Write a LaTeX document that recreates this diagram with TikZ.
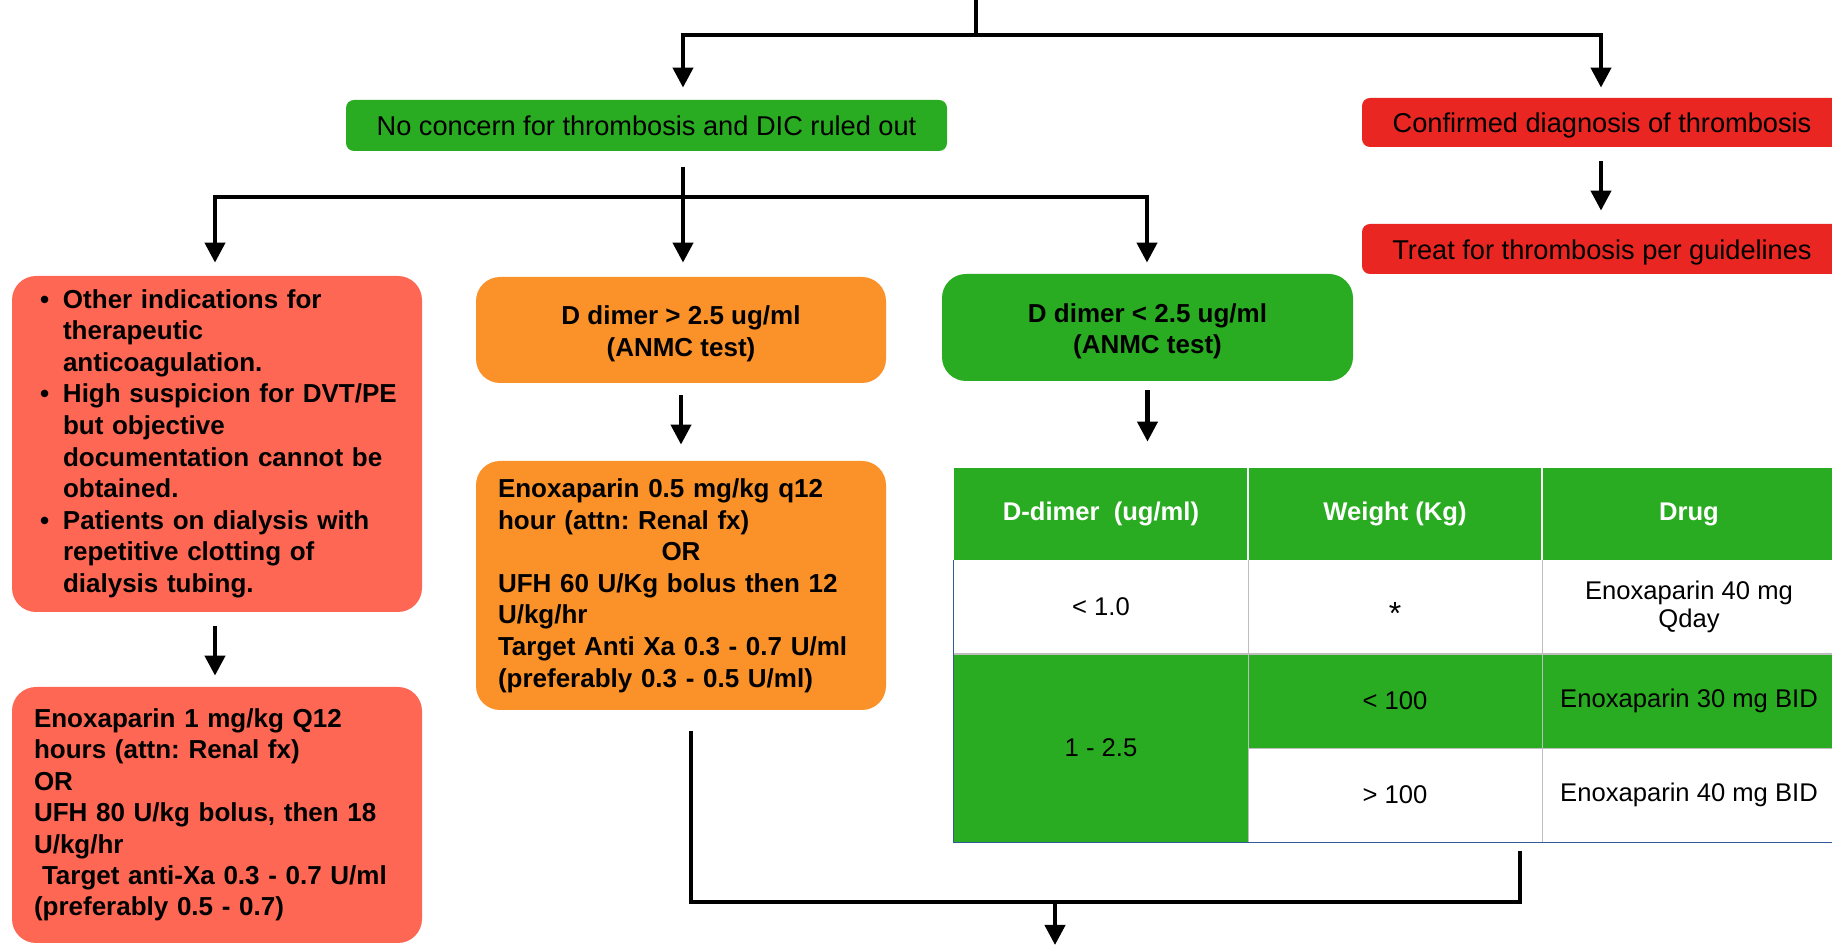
\documentclass[tikz,border=0pt]{standalone}
\usepackage{fontspec}
\setmainfont{Liberation Sans}
\usetikzlibrary{arrows.meta,calc}
\definecolor{gbox}{RGB}{42,172,34}
\definecolor{rbox}{RGB}{233,38,33}
\definecolor{sbox}{RGB}{254,103,84}
\definecolor{obox}{RGB}{251,146,41}
\definecolor{gridgray}{RGB}{190,190,190}
\definecolor{tblue}{RGB}{50,90,150}
\frenchspacing
\newcommand{\lowtwo}[3]{\raisebox{-#1}[\height][\depth]{\begin{tabular}{@{}c@{}}#2\\#3\end{tabular}}}
\newcommand{\lowone}[2]{\raisebox{-#1}[\height][\depth]{#2}}
\begin{document}
\begin{tikzpicture}[x=0.5pt,y=-0.5pt,
  conn/.style={line width=2.1pt, line join=miter},
  arr/.style={conn, -{Triangle[length=10pt,width=10pt]}},
  flat/.style={rounded corners=4pt, inner sep=0pt, text=black, align=center,
    font=\fontsize{13.6}{16}\selectfont},
  bigbox/.style={rounded corners=12pt, inner sep=0pt, text=black,
    font=\fontsize{13}{15.8}\selectfont\bfseries},
  cell/.style={minimum width=147pt, minimum height=47pt, inner sep=0pt, align=center,
    font=\fontsize{12.8}{14}\selectfont},
  hcell/.style={cell, minimum height=46pt, fill=gbox, text=white,
    font=\fontsize{12.8}{14}\selectfont\bfseries}
]
\useasboundingbox (0,0) rectangle (1832,945);

% top boxes
\node[flat, fill=gbox, minimum width=300.5pt, minimum height=25.5pt] (nc) at (646.5,125.5)
  {No concern for thrombosis and DIC ruled out};
\node[flat, fill=rbox, minimum width=240pt, minimum height=24.5pt] (cd) at (1602,122.5)
  {\lowone{1.7pt}{Confirmed diagnosis of thrombosis}};
\node[flat, fill=rbox, minimum width=240pt, minimum height=25pt] (tt) at (1602,249)
  {\lowone{1.7pt}{Treat for thrombosis per guidelines}};

% left column
\node[bigbox, fill=sbox, minimum width=205pt, minimum height=168pt, text width=177pt, align=left]
  (lb1) at (217,444)
  {\begin{tabular}{@{}p{11.5pt}@{}l@{}}
   \textbullet & Other indications for\\
   & therapeutic\\
   & anticoagulation.\\
   \textbullet & High suspicion for DVT/PE\\
   & but objective\\
   & documentation cannot be\\
   & obtained.\\
   \textbullet & Patients on dialysis with\\
   & repetitive clotting of\\
   & dialysis tubing.
   \end{tabular}};
\node[bigbox, fill=sbox, minimum width=205pt, minimum height=128pt, text width=183pt, align=left,
  font=\fontsize{13}{15.7}\selectfont\bfseries]
  (lb2) at (217,815)
  {Enoxaparin 1 mg/kg Q12\\
   hours (attn: Renal fx)\\
   OR\\
   UFH 80 U/kg bolus, then 18\\
   U/kg/hr\\
   \hspace*{4pt}Target anti-Xa 0.3 - 0.7 U/ml\\
   (preferably 0.5 - 0.7)};

% middle column
\node[bigbox, fill=obox, minimum width=205pt, minimum height=53pt, align=center]
  (o1) at (681,330) {\lowtwo{2pt}{D dimer > 2.5 ug/ml}{(ANMC test)}};
\node[bigbox, fill=obox, minimum width=205pt, minimum height=124.5pt, text width=183pt, align=left]
  (o2) at (681,585.5)
  {Enoxaparin 0.5 mg/kg q12\\
   hour (attn: Renal fx)\\
   \makebox[183pt][c]{OR}\\
   UFH 60 U/Kg bolus then 12\\
   U/kg/hr\\
   Target Anti Xa 0.3 - 0.7 U/ml\\
   (preferably 0.3 - 0.5 U/ml)};

% right column
\node[bigbox, fill=gbox, minimum width=205.5pt, minimum height=53.5pt, align=center]
  (g2) at (1147.5,327.5) {\lowtwo{2pt}{D dimer < 2.5 ug/ml}{(ANMC test)}};

% table
\node[hcell] (h1) at (1101,514) {D-dimer\ \ (ug/ml)};
\node[hcell] (h2) at (1395,514) {Weight (Kg)};
\node[hcell] (h3) at (1689,514) {Drug};
\node[cell, fill=white] (r1c1) at (1101,607) {< 1.0};
\node[cell, fill=white] (r1c2) at (1395,607) {\lowone{3pt}{\fontsize{16}{16}\selectfont *}};
\node[cell, fill=white] (r1c3) at (1689,607) {Enoxaparin 40 mg\\Qday};
\node[cell, fill=gbox, minimum height=94pt] (c1m) at (1101,748) {1 - 2.5};
\node[cell, fill=gbox] (r2c2) at (1395,701) {< 100};
\node[cell, fill=gbox] (r2c3) at (1689,701) {Enoxaparin 30 mg BID};
\node[cell, fill=white] (r3c2) at (1395,795) {> 100};
\node[cell, fill=white] (r3c3) at (1689,795) {Enoxaparin 40 mg BID};

\draw[white, line width=1pt] (h1.north east) -- (h1.south east);
\draw[white, line width=1pt] (h2.north east) -- (h2.south east);
\draw[gridgray, line width=0.8pt] (r1c1.north east) -- (c1m.south east);
\draw[gridgray, line width=0.8pt] (r1c2.north east) -- (r3c2.south east);
\draw[gridgray, line width=1pt] (r1c1.south west) -- (r1c3.south east);
\draw[gridgray, line width=0.8pt] (r2c2.south west) -- (r2c3.south east);
\draw[tblue, line width=0.8pt] (r1c1.north west) -- (c1m.south west) -- (r3c3.south east);

% connectors
\coordinate (t0) at (976,0);
\coordinate (tL) at (683,35);
\coordinate (tR) at (1601,35);
\draw[conn] (t0) -- (t0 |- tL);
\draw[arr, shorten >=6pt] (tR) -- (tL) -- (tL |- nc.north);
\draw[arr, shorten >=5pt] (tL) -- (tR) -- (tR |- cd.north);
\draw[arr, shorten <=7pt, shorten >=6.5pt] (cd.south -| tR) -- (tt.north -| tR);

\coordinate (m0) at (683,167);
\coordinate (mL) at (215,197);
\coordinate (mR) at (1147,197);
\draw[arr, shorten >=7pt] (m0) -- (m0 |- o1.north);
\draw[arr, shorten >=6.5pt] (mR) -- (mL) -- (mL |- lb1.north);
\draw[arr, shorten >=5.5pt] (mL) -- (mR) -- (mR |- g2.north);

\draw[arr, shorten <=7pt, shorten >=5.5pt] (lb1.south -| mL) -- (lb2.north -| mL);
\draw[arr, shorten <=6pt, shorten >=8pt] (o1.south) -- (o2.north);
\draw[arr, shorten <=4.5pt, shorten >=13pt] (g2.south) -- (g2.south |- h1.north);

\coordinate (bL) at (691,902);
\coordinate (bR) at (1520,902);
\coordinate (bM) at (1055,902);
\coordinate (bEnd) at (1055,945);
\draw[conn] ($(o2.south -| bL)+(0,21)$) -- (bL) -- (bR) -- ($(r3c2.south -| bR)+(0,9)$);
\draw[arr] (bM) -- (bEnd);
\end{tikzpicture}
\end{document}
